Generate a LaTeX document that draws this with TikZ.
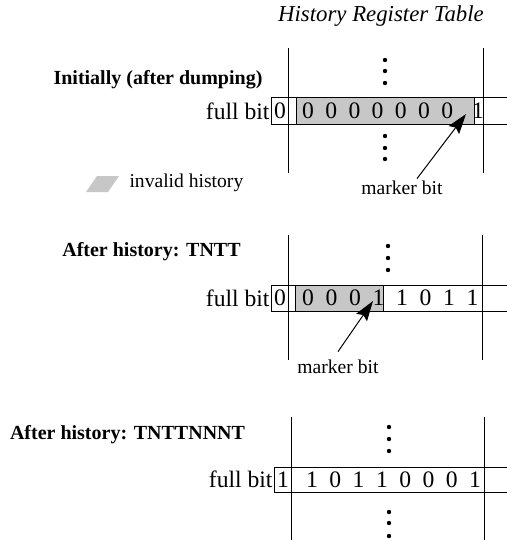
\documentclass[tikz,border=0pt]{standalone}
\usepackage{fontspec}
\setmainfont{Liberation Serif}
\usetikzlibrary{arrows.meta}

\tikzset{
  bitval/.style={inner sep=0.5pt,font=\fontsize{11.8}{13}\selectfont},
  heading/.style={inner sep=0pt,font=\fontsize{10}{12}\selectfont\bfseries},
  tabletitle/.style={inner sep=0pt,font=\fontsize{11.4}{13}\selectfont\itshape},
  note/.style={inner sep=1pt,font=\fontsize{9.8}{12}\selectfont},
  invalid/.style={fill=black!22,draw=black},
  marker/.style={-{Stealth[length=10pt,width=6.5pt,inset=1.5pt]}},
}

\begin{document}
\begin{tikzpicture}[x=0.5pt,y=-0.5pt,line width=0.5pt]
    \useasboundingbox (0,0) rectangle (507,540);
    \node[tabletitle] (hrt) at (381,16) {History Register Table};

    %% Initially
    \node[heading] (init) at (158,80) {Initially (after dumping)};
    \draw (288,48) -- (288,173);
    \draw (483,48) -- (483,173);
    \filldraw[invalid] (296,98) rectangle (474,124);
    \draw (507,98) -- (271,98) -- (271,124) -- (507,124);
    \node[bitval,anchor=east] (fba) at (271,111) {full bit};
    \node[bitval] (fa) at (280,111) {0};
    \foreach \b [count=\i from 0] in {0,0,0,0,0,0,0}
        \node[bitval] (ra\i) at (308+23.2*\i,111) {\b};
    \node[bitval] (ma) at (478,111) {1};
    \foreach \y in {60,71,83,136,148,159}
        \fill (385,\y) circle[radius=1.1pt];
    %% Marker
    \node[note] (marka) at (402,188) {marker bit};
    \coordinate (tipa) at (466,114);
    \draw[marker] ([xshift=7.5pt]marka.north) -- (tipa);
    %% Legend
    \fill[black!22] (86,192) -- (108,192) -- (119,176) -- (97,176) -- cycle;
    \node[note,anchor=west] (leg) at (127,183) {invalid history};

    %% TNTT
    \node[heading] (histb) at (151.5,252) {After history: TNTT};
    \draw (288,235) -- (288,360);
    \draw (482,235) -- (482,360);
    \filldraw[invalid] (295,285) rectangle (383,311);
    \draw (507,285) -- (271,285) -- (271,311) -- (507,311);
    \node[bitval,anchor=east] (fbb) at (271,298) {full bit};
    \node[bitval] (fb) at (280,298) {0};
    \foreach \b [count=\i from 0] in {0,0,0,1,1,0,1,1}
        \node[bitval] (rb\i) at (308+23.5*\i,298) {\b};
    \foreach \y in {246,258,270}
        \fill (388,\y) circle[radius=1.1pt];
    \node[note] (markb) at (338,367) {marker bit};
    \coordinate (tipb) at (373,301);
    \draw[marker] ([yshift=3pt]markb.north) -- (tipb);

    %% TNTTNNNT
    \node[heading] (histc) at (127.5,435) {After history: TNTTNNNT};
    \draw (291,417) -- (291,540);
    \draw (484,417) -- (484,540);
    \draw (507,467) -- (274,467) -- (274,492) -- (507,492);
    \node[bitval,anchor=east] (fbc) at (274,479.5) {full bit};
    \node[bitval] (fc) at (283,479.5) {1};
    \foreach \b [count=\i from 0] in {1,0,1,1,0,0,0,1}
        \node[bitval] (rc\i) at (312+23.3*\i,479.5) {\b};
    \foreach \y in {427,439,451,512,523,536}
        \fill (389,\y) circle[radius=1.1pt];
\end{tikzpicture}
\end{document}
